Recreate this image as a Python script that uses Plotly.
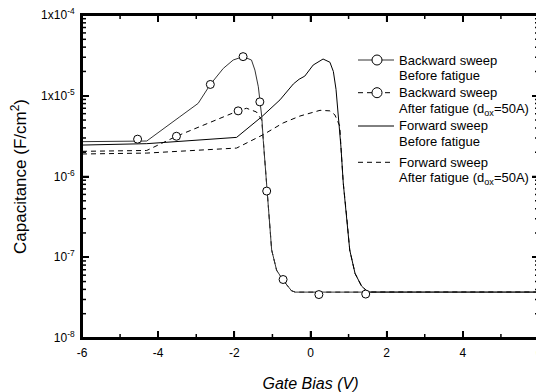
import math
import plotly.graph_objects as go

# ---------------- data ----------------
bwd_before_x = [-6.0, -4.3, -3.43, -2.95, -2.63, -2.29, -2.03, -1.77, -1.55, -1.46, -1.37,
                -1.33, -1.28, -1.24, -1.2, -1.15, -1.1, -1.02, -0.89, -0.72, -0.5, -0.4, 6.0]
bwd_before_y = [2.7e-6, 2.75e-6, 5.5e-6, 8.05e-6, 1.38e-5, 2.18e-5, 2.77e-5, 3.05e-5, 2.77e-5,
                2.08e-5, 1.29e-5, 8.4e-6, 5.5e-6, 2.8e-6, 1.6e-6, 6.6e-7, 3.0e-7, 1.23e-7,
                6.9e-8, 5.2e-8, 3.85e-8, 3.7e-8, 3.7e-8]

bwd_after_x = [-6.0, -4.3, -3.52, -1.9, -1.68, -1.42, -1.28, -1.24, -1.2, -1.15, -1.1, -1.02,
               -0.89, -0.72, -0.5, -0.4, 6.0]
bwd_after_y = [2.05e-6, 2.1e-6, 3.15e-6, 6.5e-6, 7.0e-6, 6.3e-6, 5.0e-6, 2.8e-6, 1.6e-6,
               6.6e-7, 3.0e-7, 1.23e-7, 6.9e-8, 5.2e-8, 3.85e-8, 3.7e-8, 3.7e-8]

fwd_before_x = [-6.0, -4.3, -1.94, -1.28, -0.8, -0.45, -0.3, -0.15, 0.07, 0.33, 0.51, 0.6,
                0.67, 0.73, 0.8, 0.86, 0.95, 1.03, 1.17, 1.34, 1.51, 6.0]
fwd_before_y = [2.45e-6, 2.55e-6, 3.05e-6, 5.5e-6, 8.9e-6, 1.4e-5, 1.6e-5, 1.75e-5, 2.4e-5,
                2.85e-5, 2.6e-5, 2.0e-5, 1.2e-5, 6.0e-6, 2.3e-6, 8.3e-7, 3.2e-7, 1.23e-7,
                6.3e-8, 4.4e-8, 3.7e-8, 3.7e-8]

fwd_after_x = [-6.0, -4.3, -1.94, -1.24, -0.72, -0.28, 0.25, 0.51, 0.64, 0.73, 0.77, 0.8,
               0.86, 0.95, 1.03, 1.17, 1.34, 1.51, 6.0]
fwd_after_y = [1.9e-6, 1.95e-6, 2.25e-6, 3.3e-6, 4.6e-6, 5.6e-6, 6.6e-6, 6.5e-6, 5.8e-6,
               4.6e-6, 4.2e-6, 2.3e-6, 8.3e-7, 3.2e-7, 1.23e-7, 6.3e-8, 4.4e-8, 3.7e-8, 3.7e-8]

# measured data points (open circles)
bwd_before_pts_x = [-4.54, -2.63, -1.77, -1.33, -1.15, -0.72, 0.22, 1.45]
bwd_before_pts_y = [2.9e-6, 1.38e-5, 3.05e-5, 8.4e-6, 6.6e-7, 5.3e-8, 3.45e-8, 3.5e-8]
bwd_after_pts_x = [-3.52, -1.9]
bwd_after_pts_y = [3.15e-6, 6.5e-6]

x_range = [-6, 6]
x_ticks = [-6, -4, -2, 0, 2, 4, 6]
x_minor = [-5, -3, -1, 1, 3, 5]
y_range_log = [-8, -4]
y_tickvals = [1e-8, 1e-7, 1e-6, 1e-5, 1e-4]
y_ticktext = ["10<sup>-8</sup>", "10<sup>-7</sup>", "10<sup>-6</sup>",
              "1x10<sup>-5</sup>", "1x10<sup>-4</sup>"]
y_minor = [m * 10.0 ** e for e in range(-8, -4) for m in range(2, 10)]

legend_lines = [
    ("Backward sweep", "Before fatigue"),
    ("Backward sweep", "After fatigue (d<sub>ox</sub>=50A)"),
    ("Forward sweep", "Before fatigue"),
    ("Forward sweep", "After fatigue (d<sub>ox</sub>=50A)"),
]

# ---------------- figure ----------------
# the page body adds an 8px offset, so the figure is built in window pixels minus 8
OFF = 8
W, H = 536, 384
L, T = 82 - OFF, 15 - OFF
R = W - (539 - OFF)
B = H - (338 - OFF)
PW, PH = W - L - R, H - T - B
DASH = "5px,4px"

fig = go.Figure()
line_common = dict(mode="lines", hoverinfo="skip", showlegend=False)
fig.add_trace(go.Scatter(x=fwd_before_x, y=fwd_before_y, line=dict(color="black", width=1), **line_common))
fig.add_trace(go.Scatter(x=fwd_after_x, y=fwd_after_y, line=dict(color="black", width=1, dash=DASH), **line_common))
fig.add_trace(go.Scatter(x=bwd_after_x, y=bwd_after_y, line=dict(color="black", width=1, dash=DASH), **line_common))
fig.add_trace(go.Scatter(x=bwd_before_x, y=bwd_before_y, line=dict(color="#333333", width=1), **line_common))

mk = dict(symbol="circle", size=8, color="white", line=dict(color="black", width=1))
fig.add_trace(go.Scatter(x=bwd_before_pts_x, y=bwd_before_pts_y, mode="markers", marker=mk,
                         showlegend=False, hoverinfo="skip"))
fig.add_trace(go.Scatter(x=bwd_after_pts_x, y=bwd_after_pts_y, mode="markers", marker=mk,
                         showlegend=False, hoverinfo="skip"))

FONT = "Liberation Sans, Arial, Helvetica, sans-serif"

fig.update_layout(
    width=W, height=H,
    margin=dict(l=L, r=R, t=T, b=B, pad=0),
    paper_bgcolor="white", plot_bgcolor="white",
    font=dict(family=FONT, color="black", size=12),
    xaxis=dict(
        range=x_range, tickmode="array", tickvals=x_ticks, ticktext=[str(v) for v in x_ticks],
        ticks="inside", ticklen=7, tickwidth=1.5, tickcolor="black",
        showgrid=False, zeroline=False, automargin=False,
        showline=True, linecolor="black", linewidth=2, mirror="ticks",
        tickfont=dict(size=12), ticklabeloverflow="allow", ticklabelstandoff=3,
        title=dict(text="<i>Gate Bias (V)</i>", font=dict(size=16), standoff=19),
    ),
    yaxis=dict(
        type="log", range=y_range_log, tickmode="array", tickvals=y_tickvals, ticktext=y_ticktext,
        ticks="inside", ticklen=7, tickwidth=1.5, tickcolor="black",
        showgrid=False, zeroline=False, automargin=False,
        showline=True, linecolor="black", linewidth=2, mirror="ticks",
        tickfont=dict(size=12), ticklabeloverflow="allow", ticklabelstandoff=3,
        title=dict(text="Capacitance (F/cm<sup>2</sup>)", font=dict(size=17), standoff=14),
    ),
)

# ---------------- frame and minor tick marks (axis furniture) ----------------
fig.add_shape(type="rect", xref="paper", yref="paper", x0=0, x1=1, y0=0, y1=1,
              line=dict(color="black", width=2), fillcolor="rgba(0,0,0,0)", layer="above")

def xtick(v, length):
    for y0, y1 in ((0, length / PH), (1, 1 - length / PH)):
        fig.add_shape(type="line", xref="x", yref="paper", x0=v, x1=v, y0=y0, y1=y1,
                      line=dict(color="black", width=1.5), layer="above")

def ytick(v, length):
    f = (math.log10(v) - y_range_log[0]) / (y_range_log[1] - y_range_log[0])
    for x0, x1 in ((0, length / PW), (1, 1 - length / PW)):
        fig.add_shape(type="line", xref="paper", yref="paper", x0=x0, x1=x1, y0=f, y1=f,
                      line=dict(color="black", width=1.5), layer="above")

for v in x_ticks[1:-1]:
    xtick(v, 7)
for v in x_minor:
    xtick(v, 4)
for v in y_tickvals[1:-1]:
    ytick(v, 7)
for v in y_minor:
    ytick(v, 4)

# ---------------- hand-drawn legend (window pixel positions -> paper) ----------------
def px(xp):
    return (xp - OFF - L) / PW

def py(yp):
    return (H - B - (yp - OFF)) / PH

rows = [60, 92.7, 126, 162.3]
sub_rows = [76, 109, 141.7, 178.3]
styles = [("solid", True, "#333333"), (DASH, True, "black"), ("solid", False, "black"), (DASH, False, "black")]
for (t1, t2), yr, ys, (dash, circ, col) in zip(legend_lines, rows, sub_rows, styles):
    fig.add_shape(type="line", xref="paper", yref="paper", x0=px(358), x1=px(394), y0=py(yr), y1=py(yr),
                  line=dict(color=col, width=1, dash=dash))
    if circ:
        fig.add_shape(type="circle", xref="paper", yref="paper", x0=px(372), x1=px(382),
                      y0=py(yr + 5), y1=py(yr - 5), line=dict(color="black", width=1), fillcolor="white")
    fig.add_annotation(xref="paper", yref="paper", x=px(397), y=py(yr), text=t1, showarrow=False,
                       xanchor="left", yanchor="middle", font=dict(size=13))
    fig.add_annotation(xref="paper", yref="paper", x=px(397), y=py(ys), text=t2, showarrow=False,
                       xanchor="left", yanchor="middle", font=dict(size=13))

fig.write_html("out.html")
